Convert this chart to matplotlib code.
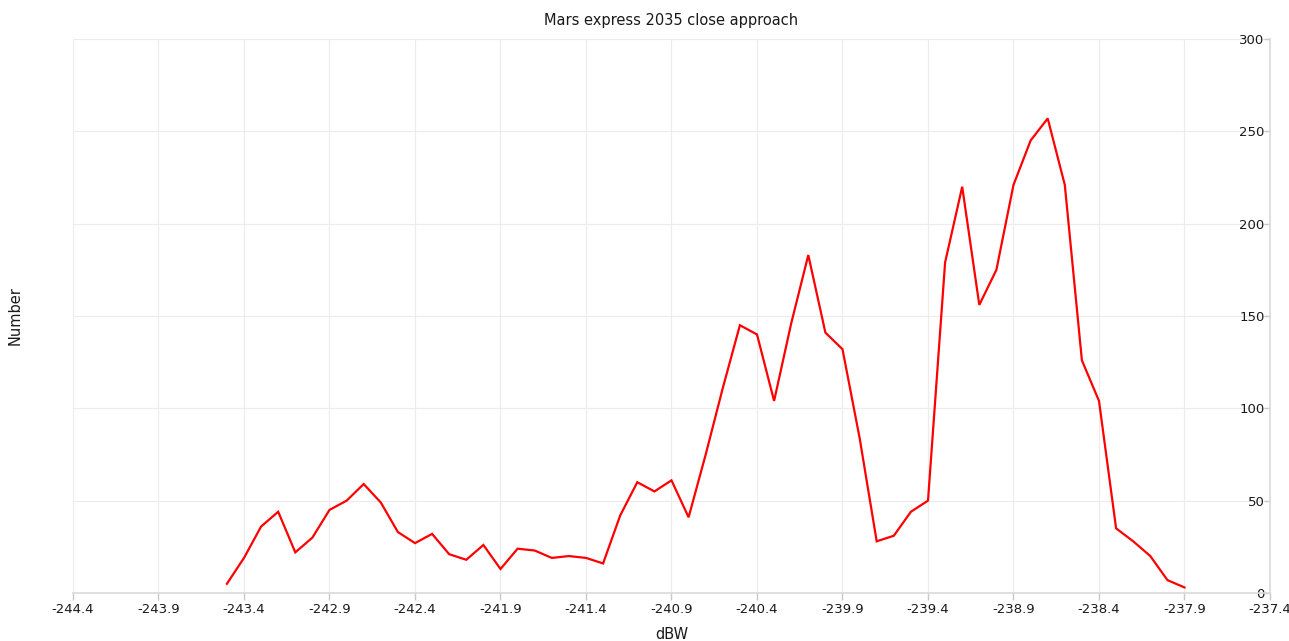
import matplotlib
matplotlib.use("Agg")
import matplotlib.pyplot as plt
import numpy as np

# Received power bins (dBW) and counts per bin
dbw = [-243.5, -243.4, -243.3, -243.2, -243.1, -243.0, -242.9, -242.8, -242.7, -242.6,
       -242.5, -242.4, -242.3, -242.2, -242.1, -242.0, -241.9, -241.8, -241.7, -241.6,
       -241.5, -241.4, -241.3, -241.2, -241.1, -241.0, -240.9, -240.8, -240.7, -240.6,
       -240.5, -240.4, -240.3, -240.2, -240.1, -240.0, -239.9, -239.8, -239.7, -239.6,
       -239.5, -239.4, -239.3, -239.2, -239.1, -239.0, -238.9, -238.8, -238.7, -238.6,
       -238.5, -238.4, -238.3, -238.2, -238.1, -238.0, -237.9]
counts = [5, 19, 36, 44, 22, 30, 45, 50, 59, 49,
          33, 27, 32, 21, 18, 26, 13, 24, 23, 19,
          20, 19, 16, 42, 60, 55, 61, 41, 75, 111,
          145, 140, 104, 146, 183, 141, 132, 84, 28, 31,
          44, 50, 179, 220, 156, 175, 221, 245, 257, 221,
          126, 104, 35, 28, 20, 7, 3]

x_ticks = [-244.4, -243.9, -243.4, -242.9, -242.4, -241.9, -241.4, -240.9,
           -240.4, -239.9, -239.4, -238.9, -238.4, -237.9, -237.4]
y_ticks = [0, 50, 100, 150, 200, 250, 300]

fig = plt.figure(figsize=(12.89, 6.41), dpi=100)
ax = fig.add_axes([73 / 1289, 1 - 593 / 641, 1197 / 1289, 554 / 641])

ax.plot(dbw, counts, color="#ff0000", linewidth=1.6, solid_joinstyle="miter")

ax.set_xlim(-244.4, -237.4)
ax.set_ylim(0, 300)
ax.set_xticks(x_ticks)
ax.set_xticklabels([f"{t:.1f}" for t in x_ticks])
ax.set_yticks(y_ticks)

ax.yaxis.tick_right()
ax.grid(True, color="#ececec", linewidth=0.8)
ax.set_axisbelow(True)

for side in ("top", "left"):
    ax.spines[side].set_visible(False)
for side in ("bottom", "right"):
    ax.spines[side].set_color("#d9d9d9")
    ax.spines[side].set_linewidth(1.2)

ax.tick_params(axis="both", colors="#c8c8c8", labelcolor="#1a1a1a",
               labelsize=9.5, width=1)
ax.tick_params(axis="x", pad=2, length=5)
# value labels sit inside the plot, just left of the right-hand axis
ax.tick_params(axis="y", direction="in", length=4, pad=-4)
for lbl in ax.get_yticklabels():
    lbl.set_horizontalalignment("right")

ax.set_title("Mars express 2035 close approach", fontsize=10.5, color="#1a1a1a", pad=10)
ax.set_xlabel("dBW", fontsize=10.5, color="#1a1a1a")
ax.xaxis.set_label_coords(0.5, -0.062)
ax.set_ylabel("Number", fontsize=10.5, color="#1a1a1a")
ax.yaxis.set_label_position("left")
ax.yaxis.set_label_coords(-0.042, 0.5)

fig.savefig("out.png", dpi=100, facecolor="white")
